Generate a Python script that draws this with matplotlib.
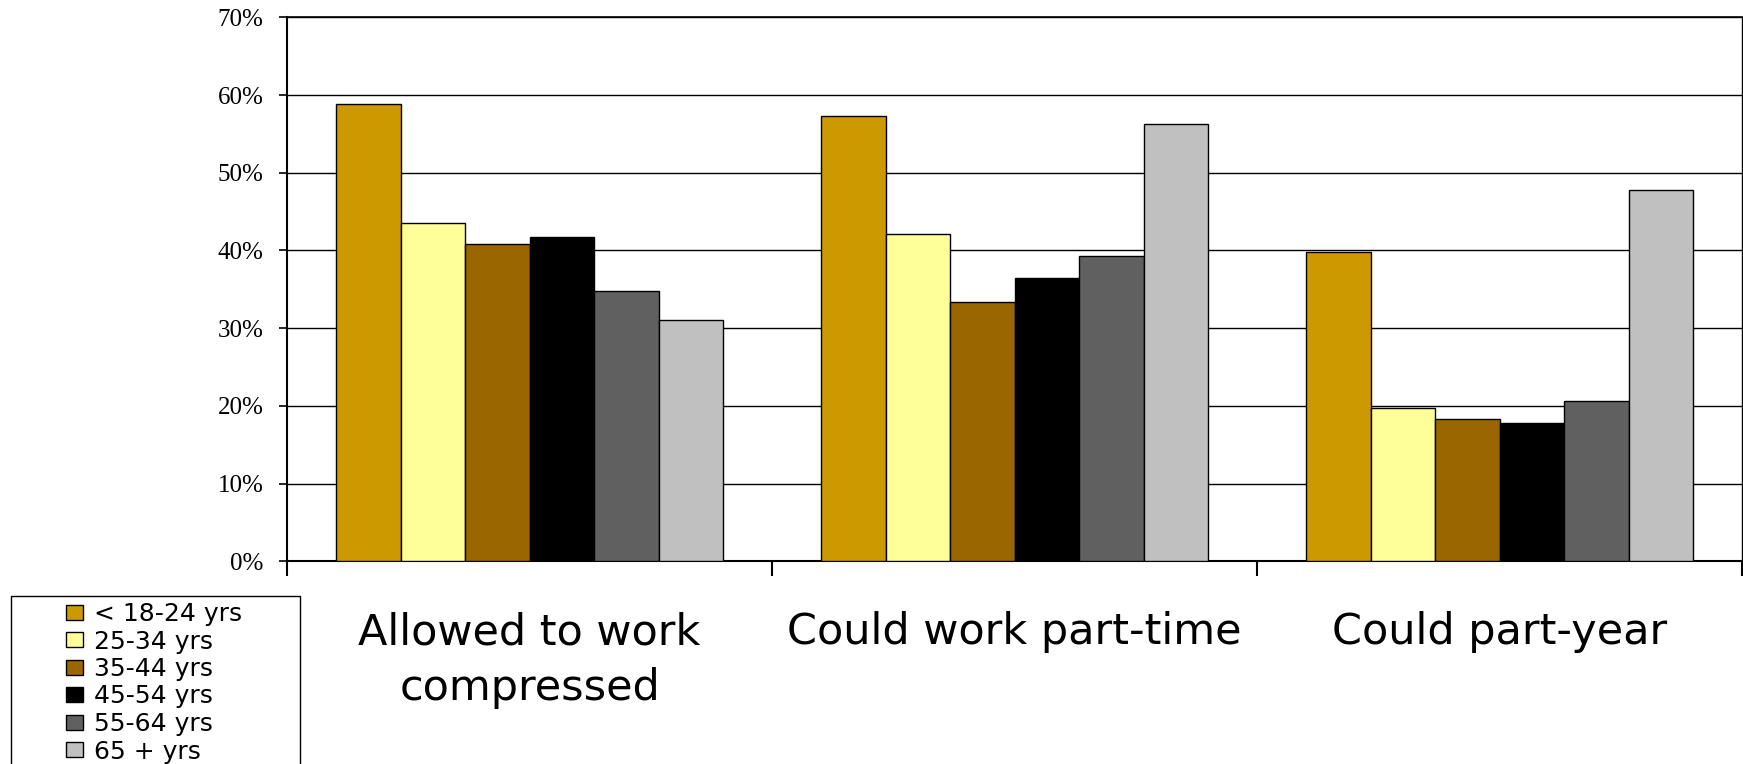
import numpy as np
import matplotlib.pyplot as plt
from matplotlib.patches import Rectangle

categories = ['Allowed to work\ncompressed', 'Could work part-time', 'Could part-year']
age_groups = ['< 18-24 yrs', '25-34 yrs', '35-44 yrs', '45-54 yrs', '55-64 yrs', '65 + yrs']
colors = ['#CC9900', '#FFFF99', '#996600', '#000000', '#606060', '#C0C0C0']

# percent of respondents per age group, one list per option
compressed = [58.8, 43.5, 40.8, 41.7, 34.8, 31.0]
part_time = [57.3, 42.1, 33.4, 36.4, 39.3, 56.3]
part_year = [39.8, 19.8, 18.3, 17.8, 20.6, 47.8]

values = np.array([compressed, part_time, part_year])  # rows = categories

fig = plt.figure(figsize=(17.43, 7.64), dpi=100)
ax = fig.add_axes([0.1647, 0.2651, 0.8348, 0.7123])

x = np.arange(len(categories))
w = 0.133
handles = []
for i, (label, c) in enumerate(zip(age_groups, colors)):
    b = ax.bar(x + (i - 2.5) * w, values[:, i], width=w, color=c,
               edgecolor='black', linewidth=1.0, label=label, zorder=3)
    handles.append(b)

ax.set_xlim(-0.5, 2.5)
ax.set_ylim(0, 70)
ax.set_yticks(np.arange(0, 71, 10))
ax.set_yticklabels(['%d%%' % v for v in range(0, 71, 10)],
                   fontfamily='Liberation Serif', fontsize=18)
ax.tick_params(axis='y', direction='out', length=6, width=1.2, pad=11)

# tick marks between the groups, labels centred under them
ax.set_xticks([-0.5, 0.5, 1.5, 2.5])
ax.set_xticklabels([])
ax.tick_params(axis='x', which='major', direction='out', length=11, width=1.5)
ax.set_xticks(x, minor=True)
ax.set_xticklabels(categories, minor=True, fontfamily='DejaVu Sans', fontsize=31,
                   ha='center', multialignment='center', linespacing=1.42)
ax.tick_params(axis='x', which='minor', length=0, pad=36)

ax.yaxis.grid(True, color='black', linewidth=1.0)
ax.set_axisbelow(True)
for side, lw in [('left', 1.5), ('bottom', 1.5), ('top', 1.2), ('right', 1.0)]:
    ax.spines[side].set_color('black')
    ax.spines[side].set_linewidth(lw)

# legend box hangs off the bottom of the figure
fig.patches.append(Rectangle((11 / 1743, -0.05), 289 / 1743, 0.05 + 1 - 596 / 764,
                             transform=fig.transFigure, fill=False,
                             edgecolor='black', linewidth=1.0))
fig.legend(handles=handles, loc='upper left', frameon=False,
           bbox_to_anchor=(66 / 1743, 1 - 602 / 764), bbox_transform=fig.transFigure,
           borderpad=0, borderaxespad=0, labelspacing=0.14,
           handlelength=0.66, handleheight=0.55, handletextpad=0.45,
           prop={'family': 'DejaVu Sans', 'size': 18})

fig.savefig('out.png', dpi=100)
